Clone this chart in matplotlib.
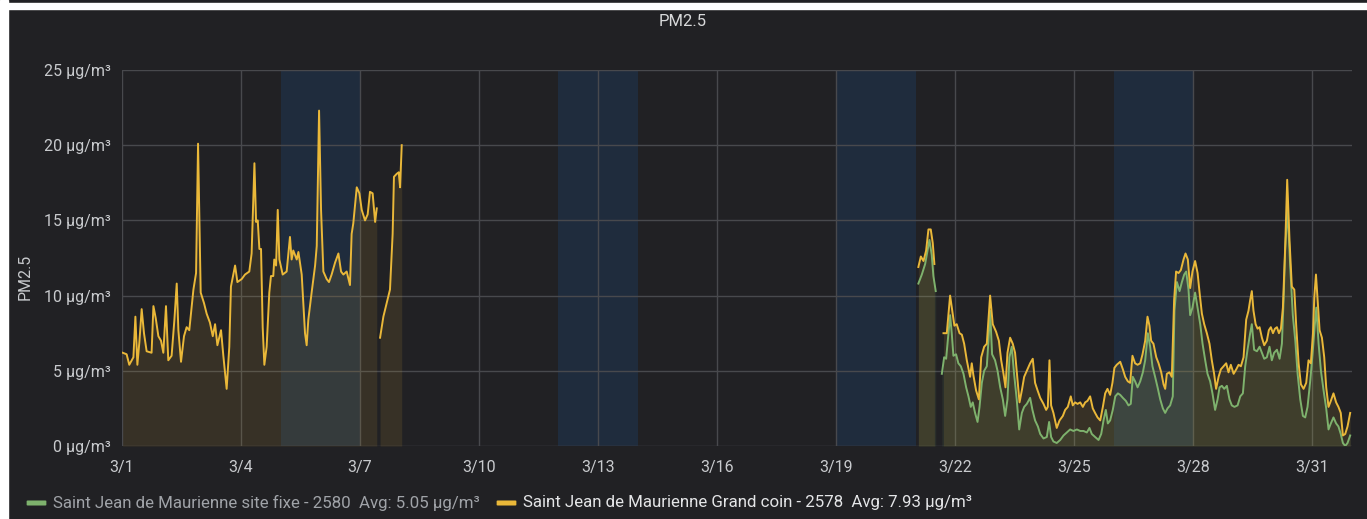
import numpy as np
import matplotlib
matplotlib.use('Agg')
import matplotlib.pyplot as plt
from matplotlib.patches import FancyBboxPatch, Rectangle

# hours since 3/1 00:00
xtick_hours = [0, 72, 144, 216, 288, 360, 432, 504, 576, 648, 720]
xtick_labels = ['3/1', '3/4', '3/7', '3/10', '3/13', '3/16', '3/19', '3/22', '3/25', '3/28', '3/31']
ytick_vals = [0, 5, 10, 15, 20, 25]
band_starts = [96, 264, 432, 600]
band_len = 48

# Grand coin - 2578 (yellow)
gc1_h = [0.4, 2.8, 4.4, 6.9, 8.1, 9.3, 10.5, 11.9, 13.3, 14.9,
         17.9, 19.0, 20.4, 22.0, 23.6, 25.0, 26.6, 28.0, 30.0, 31.7,
         33.1, 34.1, 35.7, 37.5, 39.1, 40.7, 43.2, 44.8, 46.0, 47.6,
         49.6, 51.2, 53.2, 54.9, 56.3, 57.7, 59.9, 61.3, 63.3, 64.9,
         65.9, 68.4, 69.8, 72.4, 74.4, 77.0, 78.4, 80.1, 81.1, 82.1,
         83.1, 84.1, 85.1, 86.1, 87.5, 89.1, 90.1, 91.5, 92.1, 93.2,
         94.2, 95.2, 97.2, 99.6, 101.6, 102.6, 103.6, 105.7, 106.7, 108.7,
         110.7, 111.7, 112.7, 114.7, 116.8, 117.8, 119.2, 120.4, 121.8, 123.8,
         125.2, 126.8, 128.9, 130.9, 132.5, 133.9, 135.9, 137.9, 138.9, 139.9,
         142.0, 143.6, 145.0, 147.0, 148.6, 150.0, 151.6, 153.1, 154.1]
gc1_v = [6.2, 6.1, 5.4, 5.9, 8.6, 5.4, 6.9, 9.1, 7.5, 6.3,
         6.2, 9.3, 8.5, 7.3, 7.0, 6.2, 9.3, 5.7, 6.0, 8.4,
         10.8, 7.7, 5.6, 7.3, 7.9, 7.7, 10.4, 11.5, 20.1, 10.2,
         9.5, 8.8, 8.2, 7.3, 8.1, 6.7, 7.7, 6.0, 3.8, 6.6,
         10.6, 12.0, 10.9, 11.1, 11.4, 11.6, 12.8, 18.8, 14.9, 15.0,
         13.1, 13.1, 7.9, 5.4, 6.6, 10.2, 11.3, 11.3, 12.4, 12.0,
         15.7, 12.4, 11.4, 11.6, 13.9, 12.4, 13.0, 12.4, 12.9, 11.4,
         7.5, 6.7, 8.4, 10.2, 12.0, 13.3, 22.3, 15.7, 11.6, 11.1,
         10.9, 11.4, 12.2, 12.8, 11.6, 11.4, 11.6, 10.7, 14.1, 14.8,
         17.2, 16.8, 15.7, 15.0, 15.4, 16.9, 16.8, 14.9, 15.8]
gc2_h = [156.1, 158.1, 160.1, 162.1, 163.7, 164.5, 166.2, 167.4, 168.2, 169.2]
gc2_v = [7.2, 8.6, 9.5, 10.4, 14.1, 17.9, 18.1, 18.2, 17.2, 20.0]
gc3_h = [481.7, 483.2, 484.8, 486.4, 487.8, 489.2, 490.4, 491.4]
gc3_v = [11.9, 12.6, 12.3, 13.0, 14.4, 14.4, 13.5, 12.1]
gc4_h = [496.9, 498.9, 500.9, 502.5, 503.5, 504.9, 506.6, 508.0, 509.4, 511.0,
         513.0, 514.0, 515.0, 516.6, 518.3, 519.7, 521.5, 523.1, 524.1, 525.1,
         526.7, 528.7, 530.4, 531.8, 533.2, 534.4, 535.6, 537.2, 538.8, 540.2,
         541.7, 542.9, 544.3, 545.7, 547.3, 549.3, 550.9, 552.3, 553.8, 555.4,
         557.4, 559.0, 560.0, 561.0, 562.0, 563.4, 564.4, 565.4, 567.1, 569.1,
         570.5, 572.1, 573.9, 575.1, 576.5, 578.0, 579.6, 581.2, 582.6, 584.0,
         585.6, 587.2, 588.6, 590.1, 591.7, 593.3, 594.7, 596.1, 597.7, 599.1,
         600.3, 601.7, 603.8, 605.4, 606.8, 608.4, 609.8, 611.2, 612.8, 614.3,
         615.9, 617.3, 618.9, 620.3, 621.5, 622.5, 623.9, 625.6, 627.0, 628.6,
         630.0, 631.0, 632.0, 633.6, 635.0, 636.4, 637.6, 639.1, 640.5, 642.1,
         643.3, 644.7, 646.1, 647.5, 649.1, 650.6, 651.8, 653.2, 654.6, 656.2,
         657.8, 659.2, 660.6, 661.8, 663.3, 664.7, 666.3, 667.9, 669.3, 670.7,
         672.4, 674.0, 675.4, 676.8, 678.4, 680.0, 681.4, 682.4, 683.4, 684.4,
         685.7, 686.9, 688.1, 689.5, 690.9, 692.5, 693.7, 694.9, 696.2, 697.4,
         698.6, 699.8, 701.0, 702.2, 703.6, 704.8, 706.2, 707.6, 709.1, 710.3,
         711.7, 713.1, 714.7, 716.3, 717.7, 719.1, 720.4, 721.2, 722.2, 723.2,
         724.4, 725.8, 727.2, 728.4, 729.8, 731.2, 732.8, 734.4, 735.8, 737.2,
         738.5, 739.9, 741.3, 742.9]
gc4_v = [7.5, 7.5, 10.0, 8.8, 8.0, 8.1, 7.5, 7.4, 6.8, 5.7,
         4.6, 5.5, 4.7, 3.7, 3.1, 5.9, 6.6, 6.8, 8.4, 10.0,
         8.1, 7.6, 7.0, 5.7, 4.8, 3.9, 6.2, 7.2, 6.8, 6.2,
         4.4, 2.9, 3.7, 4.6, 5.0, 5.5, 5.8, 4.2, 3.7, 3.2,
         2.8, 2.4, 2.6, 5.7, 2.7, 2.2, 1.7, 1.2, 1.7, 2.0,
         2.4, 2.6, 3.3, 2.7, 2.9, 2.8, 2.9, 2.6, 2.9, 3.0,
         3.3, 2.5, 2.2, 1.9, 1.7, 2.6, 3.5, 3.8, 3.4, 4.2,
         5.2, 5.4, 5.6, 5.1, 4.6, 4.3, 4.2, 6.0, 5.5, 5.4,
         5.5, 6.1, 7.0, 8.6, 8.0, 7.0, 6.8, 5.9, 5.5, 4.9,
         4.1, 3.8, 4.8, 4.9, 4.6, 9.7, 11.6, 11.5, 11.7, 12.4,
         12.8, 12.4, 10.5, 11.6, 12.3, 11.5, 10.2, 8.8, 8.1, 7.5,
         6.8, 5.7, 4.8, 3.8, 4.6, 5.1, 5.3, 5.5, 4.9, 5.4,
         4.8, 5.1, 5.4, 5.3, 5.9, 8.4, 9.0, 9.7, 10.3, 9.0,
         8.1, 7.8, 7.9, 7.2, 6.7, 7.0, 7.7, 7.9, 7.5, 7.8,
         7.9, 7.5, 7.8, 9.2, 13.3, 17.7, 13.7, 10.6, 10.4, 7.9,
         5.5, 4.1, 3.8, 4.2, 5.7, 5.5, 7.5, 9.9, 11.4, 9.7,
         7.7, 7.2, 5.9, 3.9, 2.6, 3.0, 3.5, 2.9, 2.6, 2.2,
         0.7, 0.8, 1.3, 2.2]

# site fixe - 2580 (green)
sf1_h = [481.7, 483.8, 485.8, 488.4, 489.8, 490.8, 492.2]
sf1_v = [10.8, 11.4, 12.1, 13.7, 12.7, 11.3, 10.3]
sf2_h = [495.9, 497.3, 498.5, 499.9, 500.9, 501.9, 502.9, 504.5, 505.9, 507.4,
         509.0, 510.6, 512.0, 513.4, 514.6, 516.0, 517.5, 518.7, 520.1, 521.5,
         523.1, 524.1, 525.1, 526.3, 528.1, 529.6, 531.2, 532.8, 534.2, 535.6,
         536.8, 538.2, 539.6, 541.2, 542.7, 544.3, 545.7, 547.3, 549.3, 550.7,
         552.3, 554.0, 555.4, 557.4, 559.4, 560.8, 562.0, 563.4, 565.4, 567.5,
         569.5, 571.5, 573.5, 575.5, 577.6, 579.6, 581.6, 583.6, 585.2, 586.6,
         588.6, 590.7, 592.3, 593.7, 595.1, 596.3, 597.7, 599.3, 600.8, 602.4,
         603.8, 605.4, 607.2, 608.8, 610.2, 611.4, 612.8, 614.3, 615.9, 617.5,
         618.9, 620.5, 621.9, 623.3, 624.9, 626.4, 628.0, 629.6, 631.0, 632.4,
         634.0, 635.6, 636.6, 638.1, 639.7, 641.1, 642.5, 643.7, 645.1, 646.1,
         647.5, 649.1, 650.6, 652.2, 653.6, 655.2, 656.6, 658.2, 659.6, 661.2,
         662.7, 663.9, 665.3, 666.7, 668.3, 669.9, 671.3, 672.9, 674.8, 676.4,
         678.0, 679.4, 680.8, 682.4, 683.4, 684.8, 686.5, 688.1, 689.5, 690.9,
         692.5, 694.1, 695.5, 696.9, 698.6, 700.2, 701.6, 702.6, 703.6, 705.0,
         706.6, 708.2, 709.7, 711.1, 712.7, 714.3, 715.7, 717.1, 718.8, 720.2,
         721.4, 722.4, 723.8, 725.2, 726.8, 728.4, 729.8, 731.2, 732.8, 734.4,
         735.8, 737.2, 738.5, 739.9, 741.3, 742.9]
sf2_v = [4.8, 5.9, 5.8, 7.5, 8.7, 7.5, 6.0, 6.1, 5.5, 5.3,
         4.8, 3.9, 3.3, 2.6, 2.9, 2.2, 1.6, 2.6, 4.2, 5.0,
         5.3, 7.0, 9.0, 6.1, 5.7, 5.0, 3.9, 3.1, 2.0, 3.1,
         5.9, 6.6, 4.8, 3.1, 1.1, 2.2, 2.6, 2.8, 3.2, 2.4,
         1.7, 1.3, 0.8, 0.5, 0.6, 1.6, 0.6, 0.3, 0.2, 0.4,
         0.7, 0.9, 1.1, 1.0, 1.1, 1.0, 1.0, 0.9, 1.2, 0.8,
         0.6, 0.4, 0.8, 1.7, 2.4, 1.5, 1.7, 2.4, 3.3, 3.5,
         3.4, 3.2, 3.0, 2.7, 2.8, 4.6, 4.3, 3.9, 4.3, 4.9,
         5.7, 7.5, 6.6, 5.3, 4.6, 3.9, 3.1, 2.5, 2.2, 2.5,
         2.7, 3.3, 9.0, 10.9, 10.3, 10.9, 11.4, 11.6, 10.4, 8.7,
         9.2, 10.2, 9.2, 8.1, 6.8, 5.7, 4.8, 4.3, 3.5, 2.4,
         3.1, 3.9, 4.0, 3.8, 4.0, 3.1, 2.7, 2.6, 2.7, 3.3,
         3.5, 5.3, 6.4, 7.5, 8.1, 6.4, 6.3, 6.6, 6.2, 5.8,
         5.9, 6.6, 5.7, 6.2, 6.4, 5.8, 6.8, 9.7, 13.1, 15.8,
         12.0, 8.7, 7.0, 4.8, 3.1, 2.0, 1.9, 2.6, 4.4, 6.2,
         7.9, 9.2, 6.8, 5.0, 3.7, 2.5, 1.1, 1.5, 1.9, 1.5,
         1.3, 0.8, 0.2, 0.0, 0.2, 0.7]

green_name = 'Saint Jean de Maurienne site fixe - 2580  Avg: 5.05 µg/m³'
yellow_name = 'Saint Jean de Maurienne Grand coin - 2578  Avg: 7.93 µg/m³'

BG = '#212124'
GREEN = '#7eb26d'
YELLOW = '#eab839'
TXT = '#c8cacd'

plt.rcParams['font.family'] = ['Roboto', 'DejaVu Sans']
fig = plt.figure(figsize=(13.67, 5.19), dpi=100, facecolor=BG)
W, H = 1367, 519

# white frame pieces of the screenshot
fig.patches.append(Rectangle((0, 0), 8 / W, 1, transform=fig.transFigure, color='white', zorder=0))
fig.patches.append(Rectangle((8 / W, 1 - 9 / H), 1, 6 / H, transform=fig.transFigure, color='white', zorder=0))

ax = fig.add_axes([122 / W, 1 - 446 / H, (1352 - 122) / W, (446 - 70) / H])
ax.set_facecolor(BG)

for s in band_starts:
    ax.axvspan(s, s + band_len, color='#1f2c3d', lw=0, zorder=0.1)

for h, v in [(sf1_h, sf1_v), (sf2_h, sf2_v)]:
    ax.fill_between(h, v, 0, color=GREEN, alpha=0.1, lw=0, zorder=1)
    ax.plot(h, v, color=GREEN, lw=1.4, zorder=2)
for h, v in [(gc1_h, gc1_v), (gc2_h, gc2_v), (gc3_h, gc3_v), (gc4_h, gc4_v)]:
    ax.fill_between(h, v, 0, color=YELLOW, alpha=0.11, lw=0, zorder=1)
    ax.plot(h, v, color=YELLOW, lw=1.4, zorder=3)

ax.set_xlim(0, 744)
ax.set_ylim(0, 25)
ax.set_xticks(xtick_hours)
ax.set_xticklabels(xtick_labels)
ax.set_yticks(ytick_vals)
ax.set_yticklabels([f'{v} µg/m³' for v in ytick_vals])
ax.tick_params(colors=TXT, labelsize=11.5, length=0)
ax.tick_params(axis='y', pad=8)
ax.tick_params(axis='x', pad=10)
ax.grid(True, color='#48494d', lw=1)
ax.set_axisbelow(True)
for sp in ax.spines.values():
    sp.set_visible(False)

fig.text(683 / W, 1 - 22 / H, 'PM2.5', color='#d8d9da', fontsize=12, ha='center', va='center')
fig.text(25 / W, 1 - 277 / H, 'PM2.5', color=TXT, fontsize=11.5, rotation=90, ha='center', va='center')

# legend
ly = 1 - 503 / H
for x0, col in [(28, GREEN), (498, YELLOW)]:
    fig.patches.append(FancyBboxPatch((x0 / W, ly - 2 / H), 17 / W, 4 / H,
                                      boxstyle='round,pad=0.001', transform=fig.transFigure,
                                      color=col, lw=0))
fig.text(53 / W, ly, green_name, color='#a0a3a8', fontsize=12.2, va='center')
fig.text(523 / W, ly, yellow_name, color='#e4e5e7', fontsize=12.2, va='center')

fig.savefig('out.png', dpi=100, facecolor=BG)
